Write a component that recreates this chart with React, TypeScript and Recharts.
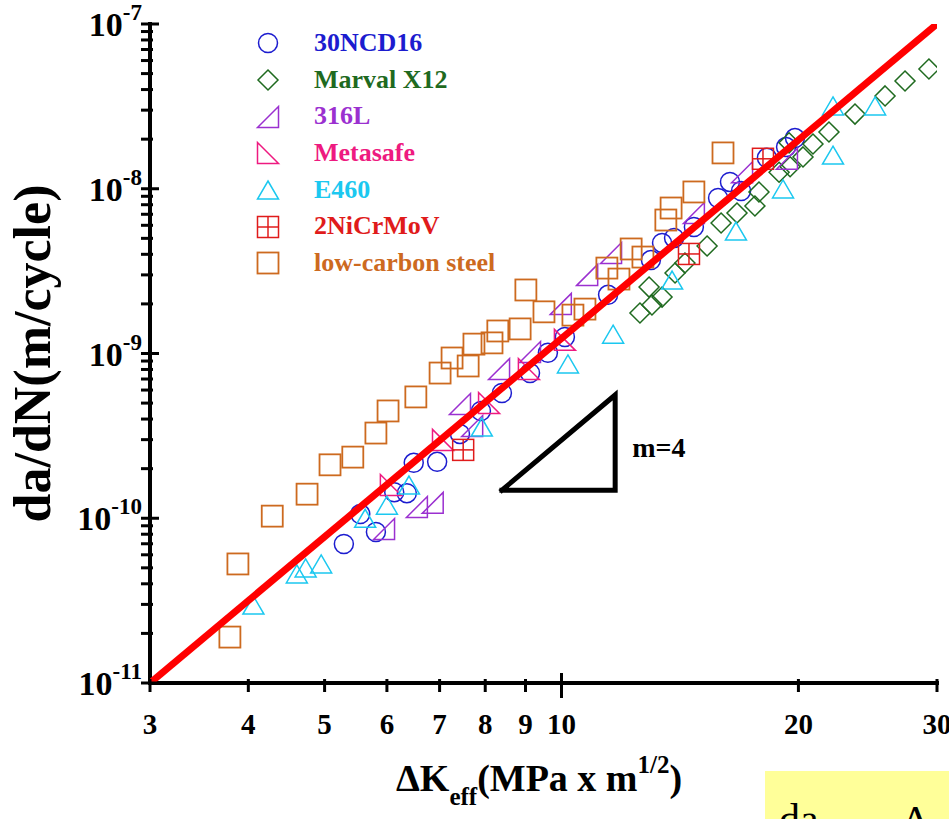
import React from 'react';
import { ScatterChart, Scatter, XAxis, YAxis, Legend } from 'recharts';

const SERIF = '"Liberation Serif", "Times New Roman", serif';

// axis ticks
const xTicks = [3, 4, 5, 6, 7, 8, 9, 10, 20, 30];
const yDecades = [1e-11, 1e-10, 1e-9, 1e-8, 1e-7];
const yMinorSteps = [2, 3, 4, 5, 6, 7, 8, 9];
const yTicks = [
  ...yDecades,
  ...yDecades.slice(0, -1).flatMap((d) => yMinorSteps.map((m) => d * m)),
].sort((a, b) => a - b);

// [deltaK_eff (MPa m^1/2), da/dN (m/cycle)]
const ncd16 = [
  [5.29, 6.98e-11], [5.55, 1.06e-10], [5.81, 8.25e-11], [6.13, 1.44e-10], [6.36, 1.42e-10],
  [6.49, 2.17e-10], [6.95, 2.2e-10], [7.43, 3.25e-10], [7.9, 4.48e-10], [8.4, 5.76e-10],
  [9.12, 7.61e-10], [9.61, 1.01e-9], [10.1, 1.26e-9], [11.46, 2.27e-9], [12.99, 3.69e-9],
  [13.42, 4.69e-9], [13.9, 5.03e-9], [14.73, 5.86e-9], [15.81, 8.79e-9], [16.37, 1.1e-8],
  [16.91, 9.69e-9], [18.24, 1.54e-8], [19.29, 1.79e-8], [19.8, 2.03e-8],
];
const marvalX12 = [
  [12.58, 1.76e-9], [12.92, 2.53e-9], [13.03, 1.97e-9], [13.42, 2.2e-9], [13.94, 3.08e-9],
  [14.35, 3.54e-9], [15.31, 4.49e-9], [15.95, 6.2e-9], [16.71, 7.13e-9], [17.61, 7.86e-9],
  [17.82, 9.56e-9], [18.9, 1.26e-8], [19.52, 1.36e-8], [19.46, 1.9e-8], [20.27, 1.56e-8],
  [20.87, 1.87e-8], [21.87, 2.21e-8], [23.6, 2.84e-8], [25.77, 3.66e-8], [27.32, 4.51e-8],
  [29.3, 5.33e-8],
];
const s316L = [
  [5.95, 8.6e-11], [6.55, 1.17e-10], [6.86, 1.24e-10], [7.43, 4.94e-10], [7.7, 3.63e-10],
  [8.33, 8.05e-10], [9.12, 1.02e-9], [9.98, 2.0e-9], [10.78, 3.0e-9], [11.56, 4.07e-9],
  [14.73, 7.13e-9], [16.96, 1.26e-8], [19.34, 1.52e-8],
];
const metasafe = [
  [6.07, 1.59e-10], [7.07, 2.99e-10], [8.09, 5.01e-10], [9.09, 8.05e-10], [10.1, 1.21e-9],
];
const e460 = [
  [4.06, 2.97e-11], [4.61, 4.59e-11], [4.73, 4.99e-11], [4.95, 5.28e-11], [5.63, 1.0e-10],
  [6.0, 1.2e-10], [6.4, 1.59e-10], [7.92, 3.58e-10], [10.19, 8.64e-10], [11.63, 1.31e-9],
  [13.82, 2.79e-9], [16.66, 5.54e-9], [19.12, 9.97e-9], [22.13, 1.6e-8], [22.13, 3.18e-8],
  [25.03, 3.18e-8],
];
const niCrMoV = [
  [7.5, 2.6e-10], [14.52, 4.02e-9], [18.03, 1.52e-8],
];
const lowCarbon = [
  [3.79, 1.9e-11], [3.88, 5.28e-11], [4.29, 1.03e-10], [4.75, 1.4e-10], [5.08, 2.11e-10],
  [5.43, 2.35e-10], [5.81, 3.29e-10], [6.02, 4.48e-10], [6.53, 5.45e-10], [7.01, 7.61e-10],
  [7.26, 9.39e-10], [7.61, 8.4e-10], [7.74, 1.14e-9], [8.16, 1.16e-9], [8.3, 1.37e-9],
  [8.86, 1.41e-9], [9.01, 2.43e-9], [9.5, 1.79e-9], [10.34, 1.71e-9], [10.71, 1.86e-9],
  [11.42, 3.3e-9], [11.83, 2.83e-9], [12.26, 4.31e-9], [12.69, 3.85e-9], [13.57, 6.46e-9],
  [13.78, 7.64e-9], [14.73, 9.56e-9], [16.04, 1.65e-8],
];

// fitted line (m = 4) and slope triangle
const fitK = [3, 30];
const fitRate = [1e-11, 1e-7];
const triK = [8.4, 11.7, 11.7, 8.4];
const triRate = [1.48e-10, 5.6e-10, 1.48e-10, 1.48e-10];
const slopeLabel = [12.3, 2.35e-10];

const pts = (arr: number[][]) => arr.map(([x, y]) => ({ x, y }));
const zip = (xs: number[], ys: number[]) => xs.map((x, i) => ({ x, y: ys[i] }));

type Kind = 'circle' | 'diamond' | 'triR' | 'triL' | 'tri' | 'boxCross' | 'box';

const series = [
  { name: '30NCD16', data: ncd16, kind: 'circle' as Kind, color: '#1c1ccf' },
  { name: 'Marval X12', data: marvalX12, kind: 'diamond' as Kind, color: '#1f6a1f' },
  { name: '316L', data: s316L, kind: 'triR' as Kind, color: '#9b30d0' },
  { name: 'Metasafe', data: metasafe, kind: 'triL' as Kind, color: '#ee1a80' },
  { name: 'E460', data: e460, kind: 'tri' as Kind, color: '#1bc8f0' },
  { name: '2NiCrMoV', data: niCrMoV, kind: 'boxCross' as Kind, color: '#e01b1b' },
  { name: 'low-carbon steel', data: lowCarbon, kind: 'box' as Kind, color: '#cd6a1f' },
];

const marker = (kind: Kind, cx: number, cy: number, color: string) => {
  const s = 10.5;
  const common = { fill: 'none', stroke: color, strokeWidth: 1.5 };
  switch (kind) {
    case 'circle':
      return <circle cx={cx} cy={cy} r={9.5} {...common} />;
    case 'diamond':
      return <polygon points={`${cx},${cy - 10} ${cx + 10},${cy} ${cx},${cy + 10} ${cx - 10},${cy}`} {...common} />;
    case 'triR':
      return <polygon points={`${cx - s},${cy + s} ${cx + s},${cy - s} ${cx + s},${cy + s}`} {...common} />;
    case 'triL':
      return <polygon points={`${cx - s},${cy - s} ${cx - s},${cy + s} ${cx + s},${cy + s}`} {...common} />;
    case 'tri':
      return <polygon points={`${cx},${cy - 9} ${cx + s},${cy + 9} ${cx - s},${cy + 9}`} {...common} />;
    case 'boxCross':
      return (
        <g {...common}>
          <rect x={cx - s} y={cy - s} width={2 * s} height={2 * s} />
          <line x1={cx} x2={cx} y1={cy - s} y2={cy + s} />
          <line x1={cx - s} x2={cx + s} y1={cy} y2={cy} />
        </g>
      );
    default:
      return <rect x={cx - s} y={cy - s} width={2 * s} height={2 * s} {...common} strokeWidth={1.8} />;
  }
};

const isDecade = (v: number) => Math.abs(Math.log10(v) - Math.round(Math.log10(v))) < 1e-6;

const BottomTick = ({ x, y, payload }: any) => {
  const major = payload.value === 10;
  return (
    <g>
      <line x1={x} x2={x} y1={y - (major ? 10 : 4)} y2={y + (major ? 15 : 9)} stroke="#000" strokeWidth={3} />
      <text x={x} y={y + 51} textAnchor="middle" fontFamily={SERIF} fontWeight="bold" fontSize={29} fill="#000">
        {payload.value}
      </text>
    </g>
  );
};

const TopTick = ({ x, y, payload }: any) => {
  const major = payload.value === 10;
  return <line x1={x} x2={x} y1={y + (major ? 10 : 4)} y2={y - (major ? 15 : 9)} stroke="#000" strokeWidth={3} />;
};

const LeftTick = ({ x, y, payload }: any) => {
  const major = isDecade(payload.value);
  const exp = Math.round(Math.log10(payload.value));
  return (
    <g>
      <line x1={x - 9} x2={x + (major ? 9 : 3)} y1={y} y2={y} stroke="#000" strokeWidth={3} />
      {major && (
        <text x={x - 8} y={y + 12} textAnchor="end" fontFamily={SERIF} fontWeight="bold" fontSize={34} fill="#000">
          <tspan>10</tspan>
          <tspan fontSize={23} dy={-16}>{String(exp)}</tspan>
        </text>
      )}
    </g>
  );
};

const RightTick = ({ x, y, payload }: any) => {
  const major = isDecade(payload.value);
  return <line x1={x - (major ? 9 : 3)} x2={x + 11} y1={y} y2={y} stroke="#000" strokeWidth={3} />;
};

const XTitle = (props: any) => {
  const vb = props.viewBox || { x: 150, y: 683 };
  return (
    <text x={vb.x + 246} y={vb.y + 108} fontFamily={SERIF} fontWeight="bold" fontSize={38} fill="#000">
      <tspan>ΔK</tspan>
      <tspan fontSize={25} dy={14}>eff</tspan>
      <tspan dy={-14}>(MPa x m</tspan>
      <tspan fontSize={25} dy={-18}>1/2</tspan>
      <tspan dy={18}>)</tspan>
    </text>
  );
};

const YTitle = (props: any) => {
  const vb = props.viewBox || { x: 0, y: 24, height: 659 };
  const cx = vb.x + 50;
  const cy = vb.y + vb.height / 2;
  return (
    <text x={cx} y={cy} transform={`rotate(-90, ${cx}, ${cy})`} textAnchor="middle" fontFamily={SERIF} fontWeight="bold" fontSize={52} fill="#000">
      da/dN(m/cycle)
    </text>
  );
};

const renderLegend = () => (
  <div style={{ display: 'flex', flexDirection: 'column' }}>
    {series.map((s) => (
      <div key={s.name} style={{ display: 'flex', alignItems: 'center', height: 36.67 }}>
        <svg width={28} height={28} style={{ overflow: 'visible' }}>
          {marker(s.kind, 14, 14, s.color)}
        </svg>
        <span style={{ marginLeft: 32, fontFamily: SERIF, fontWeight: 'bold', fontSize: 26, color: s.color, lineHeight: '36.67px', whiteSpace: 'nowrap' }}>
          {s.name}
        </span>
      </div>
    ))}
  </div>
);

const axisLine = { stroke: '#000', strokeWidth: 4, strokeLinecap: 'square' as const };

export default function App() {
  return (
    <div style={{ position: 'absolute', left: 0, top: 0, width: 949, height: 819, background: '#fff', overflow: 'hidden' }}>
      <ScatterChart width={949} height={819} margin={{ top: 24, right: 12, bottom: 0, left: 0 }}>
        <XAxis xAxisId="b" dataKey="x" type="number" scale="log" domain={[3, 30]} allowDataOverflow ticks={xTicks} interval={0}
          height={136} tickSize={0} tickMargin={0} tickLine={false} axisLine={axisLine} tick={<BottomTick />} label={<XTitle />} />
        <XAxis xAxisId="t" orientation="top" dataKey="x" type="number" scale="log" domain={[3, 30]} allowDataOverflow ticks={xTicks} interval={0}
          height={0} tickSize={0} tickMargin={0} tickLine={false} axisLine={axisLine} tick={<TopTick />} />
        <YAxis yAxisId="l" dataKey="y" type="number" scale="log" domain={[1e-11, 1e-7]} allowDataOverflow ticks={yTicks} interval={0}
          width={150} tickSize={0} tickMargin={0} tickLine={false} axisLine={axisLine} tick={<LeftTick />} label={<YTitle />} />
        <YAxis yAxisId="r" orientation="right" dataKey="y" type="number" scale="log" domain={[1e-11, 1e-7]} allowDataOverflow ticks={yTicks} interval={0}
          width={0} tickSize={0} tickMargin={0} tickLine={false} axisLine={axisLine} tick={<RightTick />} />
        <Legend content={renderLegend} layout="vertical" align="center" verticalAlign="middle"
          wrapperStyle={{ left: 254, top: 25, width: 320, height: 260 }} />
        {series.map((s) => (
          <Scatter key={s.name} name={s.name} xAxisId="b" yAxisId="l" data={pts(s.data)} isAnimationActive={false}
            shape={(p: any) => marker(s.kind, p.cx, p.cy, s.color)} />
        ))}
        <Scatter name="slope" xAxisId="t" yAxisId="r" data={zip(triK, triRate)} isAnimationActive={false}
          line={{ stroke: '#000', strokeWidth: 5, strokeLinejoin: 'miter', strokeLinecap: 'square' }} shape={() => <g />} />
        <Scatter name="m4" xAxisId="t" yAxisId="r" data={[{ x: slopeLabel[0], y: slopeLabel[1] }]} isAnimationActive={false}
          shape={(p: any) => (
            <text x={p.cx} y={p.cy} fontFamily={SERIF} fontWeight="bold" fontSize={28} fill="#000">m=4</text>
          )} />
        <Scatter name="fit" xAxisId="t" yAxisId="r" data={zip(fitK, fitRate)} isAnimationActive={false}
          line={{ stroke: '#ff0000', strokeWidth: 7 }} shape={() => <g />} />
      </ScatterChart>
      <div style={{ position: 'absolute', left: 765, top: 771, width: 184, height: 48, background: '#ffff99', overflow: 'hidden', fontFamily: SERIF, fontSize: 42, lineHeight: '42px' }}>
        <span style={{ position: 'absolute', left: 14, top: 27 }}>da</span>
        <span style={{ position: 'absolute', left: 137, top: 29 }}>Δ</span>
      </div>
    </div>
  );
}
